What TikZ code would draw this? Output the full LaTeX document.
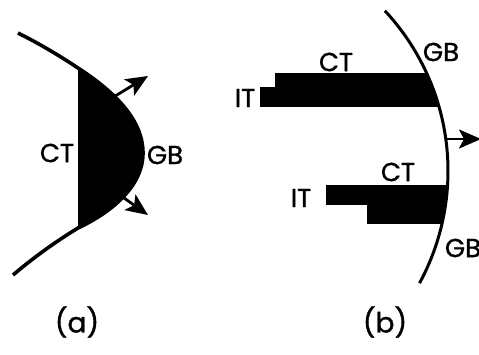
\documentclass[tikz,border=0pt]{standalone}
\usepackage{fontspec}
\setmainfont{Poppins}[FakeBold=1.2]
\usetikzlibrary{arrows.meta}
\begin{document}
\begin{tikzpicture}[x=1pt,y=-1pt,
  lbl/.style={font=\fontsize{26}{28}\selectfont, inner sep=0pt},
  caption/.style={font=\fontsize{28}{30}\selectfont, inner sep=0pt},
  bdry/.style={line width=3.6pt},
  growarrow/.style={line width=2.8pt, -{Stealth[length=22pt,width=19pt,inset=5pt]}}]
\useasboundingbox (0,0) rectangle (479,354);

% (a) curved boundary with the bulging black region
\fill (78,68) .. controls (115,92) and (143,120) .. (143,153)
      .. controls (143,186) and (112,212) .. (78,228) -- cycle;
\draw[bdry] (18,33) .. controls (40,44) and (60,56) .. (78,68)
      .. controls (115,92) and (143,120) .. (143,153)
      .. controls (143,186) and (112,212) .. (78,228)
      .. controls (55,242) and (33,258) .. (13,275);
\coordinate (up0) at (112,98);  \coordinate (up1) at (148,76);
\coordinate (dn0) at (117,193); \coordinate (dn1) at (148,215);
\draw[growarrow] (up0) -- (up1);
\draw[growarrow] (dn0) -- (dn1);
\node[lbl] (ctA) at (57,153) {CT};
\node[lbl] (gbA) at (165,155) {GB};

% (b) planar bars meeting a curved boundary
\coordinate (c) at (213,171);
\begin{scope}
  \clip (c) circle[radius=235pt];
  \fill (275,73) rectangle (460,87);
  \fill (260,87) rectangle (460,107);
  \fill (326,185) rectangle (460,205);
  \fill (367,205) rectangle (460,224);
\end{scope}
\draw[bdry, line width=3pt] plot[domain=-43:28.5, samples=80]
  ({213+235*cos(\x)},{171+235*sin(\x)});
\coordinate (ar0) at (446,139); \coordinate (ar1) at (481,139);
\draw[growarrow] (ar0) -- (ar1);
\node[lbl] (ctB1) at (336,62) {CT};
\node[lbl] (itB1) at (245,98) {IT};
\node[lbl] (gbB1) at (441,52) {GB};
\node[lbl] (ctB2) at (398,172) {CT};
\node[lbl] (itB2) at (301,198) {IT};
\node[lbl] (gbB2) at (463,248) {GB};

\node[caption] (capA) at (77,322) {(a)};
\node[caption] (capB) at (385,322) {(b)};
\end{tikzpicture}
\end{document}
